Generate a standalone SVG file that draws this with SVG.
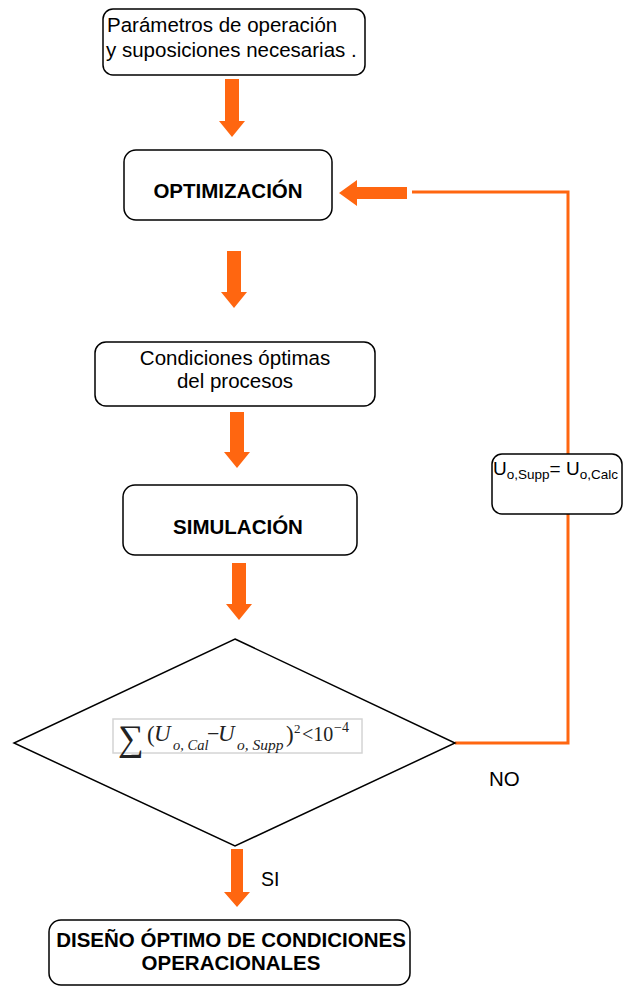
<svg xmlns="http://www.w3.org/2000/svg" width="623" height="987" viewBox="0 0 623 987">
  <style>
    .box { fill: #ffffff; stroke: #000000; stroke-width: 1.5; }
    .txt { font-family: "Liberation Sans", Arial, sans-serif; font-size: 20.5px; fill: #000000; }
    .bold { font-weight: bold; }
    .blk { fill: #ff6610; }
    .wire { fill: none; stroke: #ff6610; stroke-width: 3; }
    .math { font-family: "Liberation Serif", "Times New Roman", serif; fill: #222222; }
  </style>
  <rect width="623" height="987" fill="#ffffff"/>

  <!-- connectors -->
  <g id="connectors">
    <path class="blk" d="M225,79 H239 V121 H245 L232,137 L219,121 H225 Z"/>
    <path class="blk" d="M227,251 H241 V292 H247 L234,308 L221,292 H227 Z"/>
    <path class="blk" d="M230,412 H244 V452 H250 L237,468 L224,452 H230 Z"/>
    <path class="blk" d="M232,563 H246 V604 H252 L239,620 L226,604 H232 Z"/>
    <path class="blk" d="M231,849 H243 V892 H250 L237,907 L224,892 H231 Z"/>
    <!-- feedback loop back to optimisation -->
    <path class="blk" d="M407,187 V199 H357 V206 L339,193 L357,180 V187 Z"/>
    <polyline class="wire" points="412,192 568,192 568,454"/>
    <polyline class="wire" points="568,514 568,743 455,743"/>
    <text class="txt" x="489" y="786">NO</text>
    <text class="txt" x="261" y="886" style="font-size:19.5px">SI</text>
  </g>

  <g id="node-parametros">
    <rect class="box" x="103" y="9" width="262" height="66" rx="10"/>
    <text class="txt" x="107" y="32">Parámetros de operación</text>
    <text class="txt" x="106" y="57">y suposiciones necesarias .</text>
  </g>

  <g id="node-optimizacion">
    <rect class="box" x="124" y="150" width="208" height="70" rx="12"/>
    <text class="txt bold" x="228" y="198" text-anchor="middle">OPTIMIZACIÓN</text>
  </g>

  <g id="node-condiciones">
    <rect class="box" x="95" y="342" width="280" height="64" rx="11"/>
    <text class="txt" x="235" y="365" text-anchor="middle">Condiciones óptimas</text>
    <text class="txt" x="235" y="388" text-anchor="middle">del procesos</text>
  </g>

  <g id="node-simulacion">
    <rect class="box" x="123" y="485" width="234" height="70" rx="12"/>
    <text class="txt bold" x="238" y="534" text-anchor="middle">SIMULACIÓN</text>
  </g>

  <g id="node-convergencia">
    <polygon class="box" points="235,639 455,743 235,846 14,743"/>
    <rect x="113" y="719" width="249" height="34" fill="#ffffff" stroke="#d4d4d4" stroke-width="1.5"/>
    <text class="math" x="118" y="750" font-size="36">∑</text>
    <text class="math" x="147" y="742" font-size="23">(</text>
    <text class="math" x="154" y="741" font-size="23" font-style="italic">U</text>
    <text class="math" x="173" y="750" font-size="14.5" font-style="italic">o, Cal</text>
    <text class="math" x="207" y="741" font-size="22">−</text>
    <text class="math" x="218" y="741" font-size="23" font-style="italic">U</text>
    <text class="math" x="237" y="750" font-size="15.5" font-style="italic">o, Supp</text>
    <text class="math" x="286" y="742" font-size="23">)</text>
    <text class="math" x="294" y="733" font-size="13">2</text>
    <text class="math" x="302" y="741" font-size="20">&lt;10</text>
    <text class="math" x="334" y="732" font-size="14">−4</text>
  </g>

  <g id="node-comparacion">
    <rect class="box" x="492" y="454" width="130" height="60" rx="10"/>
    <text class="txt" x="493" y="475" style="font-size:19px">U<tspan dy="4" style="font-size:13.5px">o,Supp</tspan><tspan dy="-4">= U</tspan><tspan dy="4" style="font-size:13.5px">o,Calc</tspan></text>
  </g>

  <g id="node-diseno">
    <rect class="box" x="49" y="920" width="361" height="65" rx="12"/>
    <text class="txt bold" x="231" y="947" text-anchor="middle">DISEÑO ÓPTIMO DE CONDICIONES</text>
    <text class="txt bold" x="231" y="970" text-anchor="middle">OPERACIONALES</text>
  </g>
</svg>
